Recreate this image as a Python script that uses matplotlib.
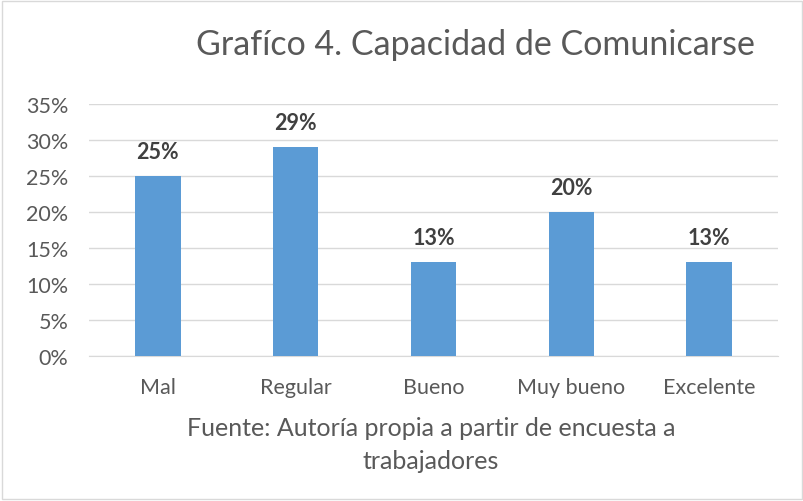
import matplotlib.pyplot as plt
from matplotlib.patches import Rectangle

categorias = ['Mal', 'Regular', 'Bueno', 'Muy bueno', 'Excelente']
porcentajes = [25, 29, 13, 20, 13]
yticks = [0, 5, 10, 15, 20, 25, 30, 35]

plt.rcParams['font.family'] = ['Lato', 'DejaVu Sans']

fig = plt.figure(figsize=(8.04, 5.02), dpi=100)
ax = fig.add_axes([89 / 804, 145 / 502, 689 / 804, 252 / 502])

x = range(len(categorias))
bars = ax.bar(x, porcentajes, width=0.33, color='#5B9BD5', zorder=3)
for b, v in zip(bars, porcentajes):
    ax.text(b.get_x() + b.get_width() / 2, v + 2.0, f'{v}%', ha='center', va='bottom',
            fontsize=15.5, fontweight='bold', color='#404040')

ax.set_xlim(-0.5, len(categorias) - 0.5)
ax.set_ylim(0, 35)
ax.set_yticks(yticks)
ax.set_yticklabels([f'{t}%' for t in yticks])
ax.set_xticks(list(x))
ax.set_xticklabels(categorias)
ax.tick_params(axis='both', length=0, labelsize=15.5, labelcolor='#595959')
ax.tick_params(axis='x', pad=15)
ax.tick_params(axis='y', pad=15)
ax.grid(axis='y', color='#D9D9D9', linewidth=1, zorder=0)
for s in ['top', 'right', 'left']:
    ax.spines[s].set_visible(False)
ax.spines['bottom'].set_color('#D9D9D9')

fig.text(475 / 804, 1 - 45 / 502, 'Grafíco 4. Capacidad de Comunicarse', ha='center', va='center',
         fontsize=24.5, color='#595959')
fig.text(431 / 804, 1 - 445 / 502, 'Fuente: Autoría propia a partir de encuesta a\ntrabajadores',
         ha='center', va='center', fontsize=18, color='#595959', linespacing=1.5)

fig.patches.append(Rectangle((2 / 804, 2 / 502), 800 / 804, 498 / 502, transform=fig.transFigure,
                             fill=False, edgecolor='#D9D9D9', linewidth=1))

fig.savefig('out.png', dpi=100)
